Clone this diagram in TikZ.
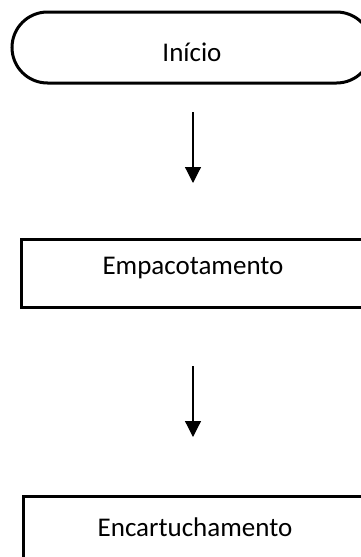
\documentclass[tikz,border=0pt]{standalone}
\usepackage{fontspec}
\setmainfont{Carlito}
\usetikzlibrary{arrows.meta,shapes.misc}
\begin{document}
\begin{tikzpicture}[x=1pt,y=1pt,
  shapeline/.style={draw=black,line width=3pt},
  term/.style={shapeline,rounded rectangle,minimum width=360pt,minimum height=71pt,inner sep=0pt},
  procbox/.style={shapeline,rectangle,minimum width=344pt,minimum height=68pt,inner sep=0pt},
  lbl/.style={font=\fontsize{27}{32}\selectfont,inner sep=0pt},
  flow/.style={draw=black,line width=1.2pt,-{Triangle[width=16pt,length=16pt]}}]
\useasboundingbox (0,0) rectangle (361,-557);
\clip (0,0) rectangle (361,-557);
\node[term] (start) at (192,-47.5) {};
\node[lbl] (starttext) at (192,-52) {Início};
\node[procbox] (pack) at (193,-273) {};
\node[lbl] (packtext) at (193,-268) {Empacotamento};
\node[procbox] (cart) at (195,-530) {};
\node[lbl] (carttext) at (195,-527) {Encartuchamento};
\coordinate (a1s) at (193,-112);
\coordinate (a1e) at (193,-183);
\coordinate (a2s) at (193,-366);
\coordinate (a2e) at (193,-437);
\draw[flow] (a1s) -- (a1e);
\draw[flow] (a2s) -- (a2e);
\end{tikzpicture}
\end{document}
